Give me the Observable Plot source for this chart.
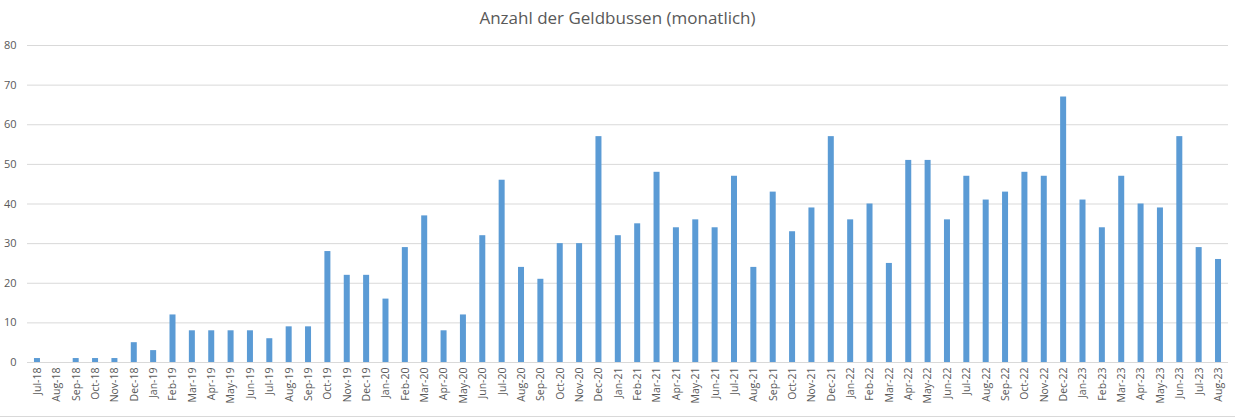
<!DOCTYPE html>
<html>
<head>
<meta charset="utf-8">
<script src="https://cdn.jsdelivr.net/npm/d3@7"></script>
<script src="https://cdn.jsdelivr.net/npm/@observablehq/plot@0.6"></script>
<style>
  html, body { margin: 0; padding: 0; background: #fff; }
  #wrap { width: 1235px; height: 417px; position: relative; box-sizing: border-box; border-bottom: 1px solid #d9d9d9; }
  #title { height: 30px; line-height: 36px; text-align: center; font-family: "Open Sans", "Liberation Sans", Arial, sans-serif; font-size: 17px; color: #595959; }
</style>
</head>
<body>
<div id="wrap">
  <div id="title">Anzahl der Geldbussen (monatlich)</div>
  <div id="chart"></div>
</div>
<script>
const months = ["Jul-18","Aug-18","Sep-18","Oct-18","Nov-18","Dec-18","Jan-19","Feb-19","Mar-19","Apr-19","May-19","Jun-19","Jul-19","Aug-19","Sep-19","Oct-19","Nov-19","Dec-19","Jan-20","Feb-20","Mar-20","Apr-20","May-20","Jun-20","Jul-20","Aug-20","Sep-20","Oct-20","Nov-20","Dec-20","Jan-21","Feb-21","Mar-21","Apr-21","May-21","Jun-21","Jul-21","Aug-21","Sep-21","Oct-21","Nov-21","Dec-21","Jan-22","Feb-22","Mar-22","Apr-22","May-22","Jun-22","Jul-22","Aug-22","Sep-22","Oct-22","Nov-22","Dec-22","Jan-23","Feb-23","Mar-23","Apr-23","May-23","Jun-23","Jul-23","Aug-23"];
const counts = [1,0,1,1,1,5,3,12,8,8,8,8,6,9,9,28,22,22,16,29,37,8,12,32,46,24,21,30,30,57,32,35,48,34,36,34,47,24,43,33,39,57,36,40,25,51,51,36,47,41,43,48,47,67,41,34,47,40,39,57,29,26];
const yTicks = [0,10,20,30,40,50,60,70,80];

const data = months.map((m, i) => ({month: m, value: counts[i]}));

const chart = Plot.plot({
  width: 1235,
  height: 386,
  marginTop: 15,
  marginBottom: 54,
  marginLeft: 27,
  marginRight: 7,
  style: {fontFamily: "Open Sans, Liberation Sans, Arial, sans-serif", color: "#595959", background: "#fff"},
  x: {domain: months, paddingInner: 0.69, paddingOuter: 0.36, round: false, label: null},
  y: {domain: [0, 80], label: null},
  marks: [
    Plot.ruleY(yTicks, {stroke: "#d9d9d9", strokeWidth: 1}),
    Plot.barY(data, {x: "month", y: "value", fill: "#5b9bd5"}),
    Plot.axisY({ticks: yTicks, tickSize: 0, tickPadding: 11, fontSize: 11, fill: "#595959", label: null}),
    Plot.axisX({tickSize: 0, tickPadding: 5, tickRotate: -90, fontSize: 10.5, fill: "#595959", label: null})
  ]
});
document.getElementById("chart").appendChild(chart);
</script>
</body>
</html>
